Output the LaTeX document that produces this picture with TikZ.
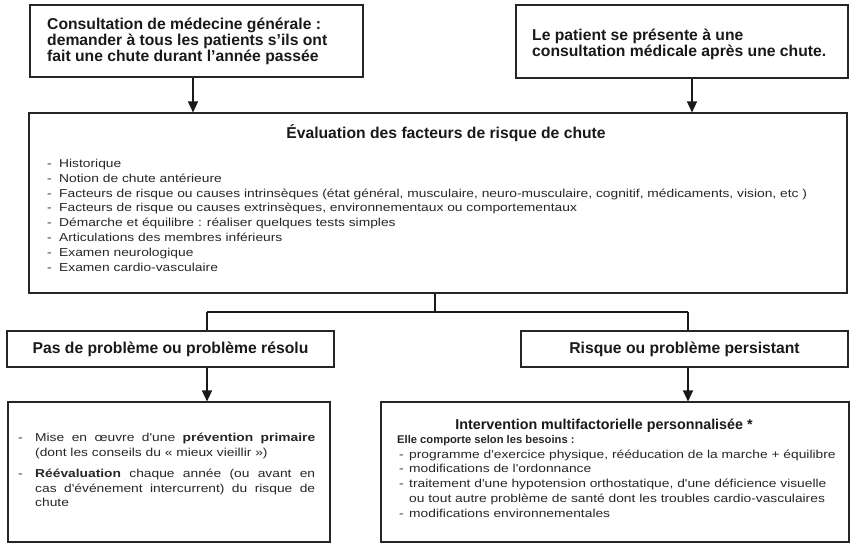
\documentclass[tikz,border=0pt]{standalone}
\usepackage{fontspec}
\setmainfont{Liberation Sans}
\newfontfamily\widefont[FakeStretch=1.2]{Liberation Sans}
\usetikzlibrary{positioning,arrows.meta,calc}

\begin{document}
\begin{tikzpicture}[x=1pt,y=-1pt,
    box/.style={draw=black!85,line width=1.1pt,inner sep=0pt},
    headtext/.style={font=\fontsize{15.7}{14.6}\selectfont\bfseries,text=black!90,inner sep=0pt},
    listtext/.style={font=\widefont\fontsize{11.5}{14.8}\selectfont,text=black!85,inner sep=0pt},
    flow/.style={draw=black!90,line width=1.2pt,-{Triangle[width=10pt,length=11pt]}},
    link/.style={draw=black!90,line width=1.2pt}]
    \useasboundingbox (0,0) rectangle (850,545);
    % top boxes
    \node[box,minimum width=333pt,minimum height=72pt] (cons) at (196.5,41) {};
    \node[headtext,align=left,anchor=north west] (constext) at (47,18)
        {Consultation de médecine générale :\\demander à tous les patients s'ils ont\\fait une chute durant l'année passée};
    \node[box,minimum width=332pt,minimum height=73pt] (patient) at (682,41.5) {};
    \node[headtext,align=left,anchor=north west] (patienttext) at (532,29)
        {Le patient se présente à une\\consultation médicale après une chute.};
    % evaluation
    \node[box,minimum width=818pt,minimum height=180pt] (eval) at (438,203) {};
    \node[headtext,anchor=base] (evaltitle) at (446,138.5) {Évaluation des facteurs de risque de chute};
    \node[listtext,align=left,anchor=north west] (evallist) at (47,159)
        {\makebox[12pt][l]{-}Historique\\
         \makebox[12pt][l]{-}Notion de chute antérieure\\
         \makebox[12pt][l]{-}Facteurs de risque ou causes intrinsèques (état général, musculaire, neuro-musculaire, cognitif, médicaments, vision, etc )\\
         \makebox[12pt][l]{-}Facteurs de risque ou causes extrinsèques, environnementaux ou comportementaux\\
         \makebox[12pt][l]{-}Démarche et équilibre : réaliser quelques tests simples\\
         \makebox[12pt][l]{-}Articulations des membres inférieurs\\
         \makebox[12pt][l]{-}Examen neurologique\\
         \makebox[12pt][l]{-}Examen cardio-vasculaire};
    \draw[flow] ([xshift=-3.5pt]cons.south) -- ([xshift=-3.5pt]cons.south |- eval.north);
    \draw[flow] ([xshift=10pt]patient.south) -- ([xshift=10pt]patient.south |- eval.north);
    % outcome
    \node[box,headtext,minimum width=327pt,minimum height=36pt] (nopb) at (170.5,349) {Pas de problème ou problème résolu};
    \node[box,headtext,minimum width=327pt,minimum height=36pt] (persist) at (684.5,349) {Risque ou problème persistant};
    \coordinate (fork) at (435,312);
    \coordinate (forkl) at (207,312);
    \coordinate (forkr) at (688,312);
    \draw[link] (eval.south -| fork) -- (fork);
    \draw[link] (forkl) -- (forkr);
    \draw[link] (forkl) -- (forkl |- nopb.north);
    \draw[link] (forkr) -- (forkr |- persist.north);
    % actions
    \node[box,minimum width=322pt,minimum height=140pt] (prev) at (169,472) {};
    \node[listtext,text width=280pt,align=justify,anchor=north west] (prevtext) at (35,433)
        {\noindent\llap{\makebox[17pt][l]{-}}Mise en œuvre d'une \textbf{prévention primaire}\linebreak
         (dont les conseils du «~mieux vieillir~»)\par\vspace{6pt}
         \noindent\llap{\makebox[17pt][l]{-}}\textbf{Réévaluation} chaque année (ou avant en\linebreak
         cas d'événement intercurrent) du risque de\linebreak chute};
    \node[box,minimum width=468pt,minimum height=140pt] (interv) at (615,472) {};
    \node[headtext,font=\fontsize{14.3}{14.6}\selectfont\bfseries,anchor=base] (intervtitle) at (604,429)
        {Intervention multifactorielle personnalisée *};
    \node[listtext,align=left,anchor=north west] (intervlist) at (397,435)
        {{\rmfamily\fontsize{11.2}{14.8}\selectfont\bfseries Elle comporte selon les besoins :}\\
         \hspace{2pt}\makebox[10pt][l]{-}programme d'exercice physique, rééducation de la marche + équilibre\\
         \hspace{2pt}\makebox[10pt][l]{-}modifications de l'ordonnance\\
         \hspace{2pt}\makebox[10pt][l]{-}traitement d'une hypotension orthostatique, d'une déficience visuelle\\
         \hspace{12pt}ou tout autre problème de santé dont les troubles cardio-vasculaires\\
         \hspace{2pt}\makebox[10pt][l]{-}modifications environnementales};
    \draw[flow] ([xshift=36.5pt]nopb.south) -- ([xshift=36.5pt]nopb.south |- prev.north);
    \draw[flow] ([xshift=3.5pt]persist.south) -- ([xshift=3.5pt]persist.south |- interv.north);
\end{tikzpicture}
\end{document}
